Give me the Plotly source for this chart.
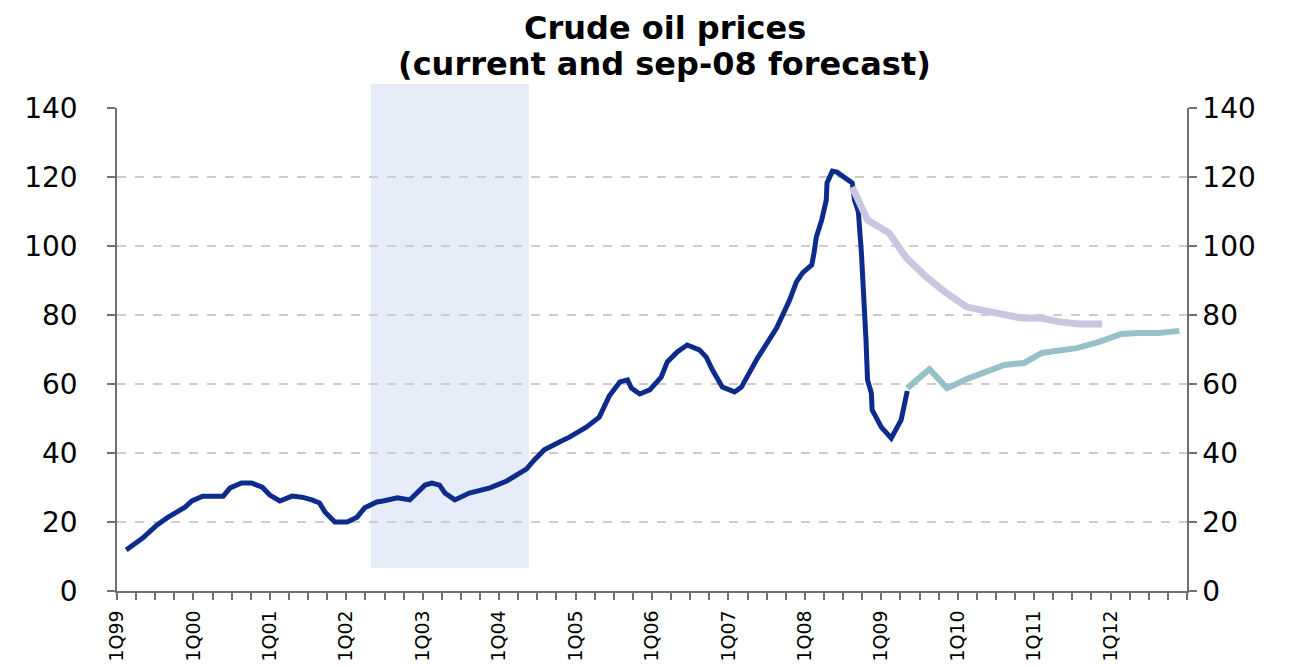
import plotly.graph_objects as go

# ---- data (decimal years, USD per barrel) ----
actual_t = [1999.12, 1999.34, 1999.52, 1999.67, 1999.89, 1999.98, 2000.12, 2000.39, 2000.48,
            2000.63, 2000.76, 2000.90, 2001.00, 2001.13, 2001.29, 2001.42, 2001.55, 2001.65,
            2001.72, 2001.85, 2002.01, 2002.14, 2002.24, 2002.40, 2002.48, 2002.67, 2002.83,
            2003.03, 2003.12, 2003.22, 2003.29, 2003.42, 2003.61, 2003.88, 2004.10, 2004.36,
            2004.46, 2004.59, 2004.79, 2004.92, 2005.14, 2005.31, 2005.44, 2005.58, 2005.68,
            2005.73, 2005.84, 2005.97, 2006.12, 2006.20, 2006.33, 2006.46, 2006.62, 2006.71,
            2006.79, 2006.92, 2007.08, 2007.17, 2007.38, 2007.50, 2007.63, 2007.80, 2007.89,
            2007.97, 2008.09, 2008.12, 2008.15, 2008.22, 2008.28, 2008.29, 2008.36, 2008.42,
            2008.62, 2008.65, 2008.70, 2008.74, 2008.77, 2008.80, 2008.82, 2008.87, 2008.88,
            2009.00, 2009.13, 2009.17, 2009.26, 2009.34]
actual_v = [11.9, 15.4, 19.1, 21.4, 24.3, 26.1, 27.5, 27.5, 29.9,
            31.3, 31.3, 30.1, 27.8, 26.1, 27.5, 27.2, 26.4, 25.5,
            22.9, 20.0, 20.0, 21.4, 24.1, 25.8, 26.1, 27.0, 26.4,
            30.7, 31.3, 30.7, 28.4, 26.4, 28.4, 29.9, 31.9, 35.4,
            38.0, 40.9, 43.2, 44.6, 47.5, 50.4, 56.5, 60.6, 61.2,
            58.8, 57.1, 58.3, 62.0, 66.4, 69.3, 71.3, 69.9, 67.8,
            64.1, 59.1, 57.7, 59.1, 67.5, 71.6, 76.2, 84.3, 89.6,
            92.2, 94.5, 98.0, 102.6, 107.5, 113.3, 118.3, 121.7, 121.4,
            118.3, 113.3, 109.9, 98.0, 87.2, 72.8, 61.2, 57.4, 52.5,
            47.5, 44.3, 45.8, 49.6, 58.0]

sep08_t = [2008.62, 2008.82, 2009.10, 2009.33, 2009.59, 2009.85, 2010.12, 2010.41,
           2010.84, 2011.09, 2011.33, 2011.59, 2011.89]
sep08_v = [117.1, 107.5, 103.8, 96.5, 91.0, 86.4, 82.3, 80.9,
           79.1, 79.1, 78.0, 77.4, 77.4]

new_t = [2009.34, 2009.63, 2009.86, 2010.15, 2010.61, 2010.87, 2011.10, 2011.56,
         2011.85, 2012.14, 2012.37, 2012.63, 2012.90]
new_v = [58.8, 64.3, 58.8, 61.7, 65.5, 66.1, 69.0, 70.4,
         72.2, 74.5, 74.8, 74.8, 75.4]

tick_years = [1999, 2000, 2001, 2002, 2003, 2004, 2005, 2006, 2007, 2008, 2009, 2010, 2011, 2012]
tick_labels = ["1Q99", "1Q00", "1Q01", "1Q02", "1Q03", "1Q04", "1Q05", "1Q06", "1Q07",
               "1Q08", "1Q09", "1Q10", "1Q11", "1Q12"]

shade_start, shade_end = 2002.32, 2004.39
shade_low, shade_high = 6.7, 147.0
y_max = 140

fig = go.Figure()
fig.add_trace(go.Scatter(x=new_t, y=new_v, mode="lines",
                         line=dict(color="#97c1c8", width=6), showlegend=False))
fig.add_trace(go.Scatter(x=actual_t, y=actual_v, mode="lines",
                         line=dict(color="#0d2b8a", width=5), showlegend=False))
fig.add_trace(go.Scatter(x=sep08_t, y=sep08_v, mode="lines",
                         line=dict(color="#c9c6e1", width=7), showlegend=False))
fig.add_trace(go.Scatter(x=[None], y=[None], yaxis="y2", showlegend=False))

fig.add_shape(type="rect", xref="x", yref="paper",
              x0=shade_start, x1=shade_end,
              y0=shade_low / y_max, y1=shade_high / y_max,
              fillcolor="#e6edf9", line=dict(width=0), layer="below")

font_t = "DejaVu Sans"
fig.add_annotation(text="<b>Crude oil prices</b>", xref="paper", yref="paper",
                   x=0.512, y=1.165, showarrow=False, yanchor="middle",
                   font=dict(family=font_t, size=32, color="black"))
fig.add_annotation(text="<b>(current and sep-08 forecast)</b>", xref="paper", yref="paper",
                   x=0.512, y=1.091, showarrow=False, yanchor="middle",
                   font=dict(family=font_t, size=32, color="black"))

axis_col = "#707070"
fig.update_layout(
    width=1291, height=659, autosize=False,
    margin=dict(l=109, r=112, t=100, b=76),
    plot_bgcolor="white", paper_bgcolor="white",
    xaxis=dict(range=[1999, 2013], tickmode="array", tickvals=tick_years, ticktext=tick_labels,
               tickangle=-90, ticks="outside", ticklen=7, tickcolor=axis_col, tickwidth=1.5,
               showline=True, linecolor=axis_col, linewidth=1.5, showgrid=False, zeroline=False,
               automargin=False, ticklabelstandoff=3,
               tickfont=dict(family="DejaVu Sans", size=19, color="black"),
               minor=dict(tickmode="linear", tick0=1999, dtick=0.25, ticks="outside",
                          ticklen=7, tickcolor=axis_col, tickwidth=1.5, showgrid=False)),
    yaxis=dict(range=[0, y_max], dtick=20, tick0=0, ticks="outside", ticklen=8,
               tickcolor=axis_col, tickwidth=1.5, showline=True, linecolor=axis_col,
               linewidth=1.5, showgrid=True, gridcolor="#cccccc", griddash="dash",
               gridwidth=1.5, zeroline=False, automargin=False, ticklabelstandoff=24,
               tickfont=dict(family="DejaVu Sans", size=28, color="black")),
    yaxis2=dict(range=[0, y_max], dtick=20, tick0=0, overlaying="y", side="right",
                ticks="outside", ticklen=8, tickcolor=axis_col, tickwidth=1.5,
                showline=True, linecolor=axis_col, linewidth=1.5, showgrid=False,
                zeroline=False, automargin=False,
                tickfont=dict(family="DejaVu Sans", size=28, color="black")),
)

fig.write_html("out.html")
